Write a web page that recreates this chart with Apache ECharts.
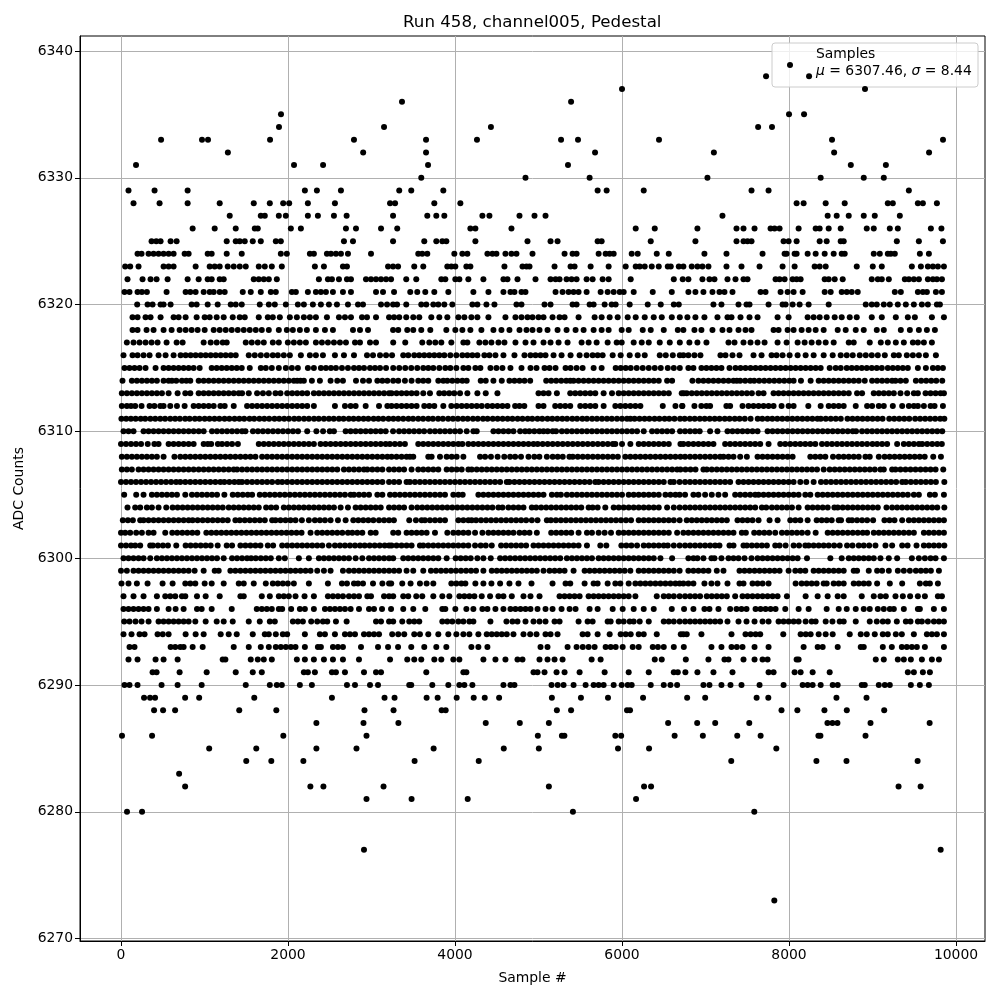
<!DOCTYPE html>
<html><head><meta charset="utf-8">
<style>html,body{margin:0;padding:0;background:#fff}#c{width:1000px;height:1000px}</style>
<script src="https://cdn.jsdelivr.net/npm/echarts@6/dist/echarts.min.js"></script>
</head><body><div id="c"></div>
<script>
const xTicks=[0,2000,4000,6000,8000,10000];
const yTicks=[6270,6280,6290,6300,6310,6320,6330,6340];
const titleText="Run 458, channel005, Pedestal";
const row6338=[7725,8240];
const row6337=[6000,8910];
const row6336=[3365,5390];
const row6335=[1916,8000,8180];
const row6334=[1892,3150,4430,7630,7796];
const row6333=[480,970,1042,1785,2790,3653,4263,5270,5473,6443,8515,9844];
const row6332=[1280,2900,3653,5677,7100,8540,9677];
const row6331=[180,2072,2420,3677,5353,8740,9160];
const row6330=[3596,4844,5612,7023,8379,8895,9135];
const row6329=[90,402,798,2202,2346,2634,3332,3476,3860,5708,5816,6260,7551,7755,9435];
const row6328=[150,462,798,1182,1590,1782,1942,2014,2238,2562,3222,3282,3752,4064,8091,8175,8439,8667,9183,9243,9543,9603,9771];
const row6327=[1302,1674,1722,1890,1974,2238,2358,2550,2702,3258,3668,3776,3872,4328,4412,4772,4952,5084,7203,8463,8571,8715,8895,9027,9327];
const row6326=[858,1122,1374,1602,1638,2034,2154,2694,2814,3114,3308,4184,4244,4676,6164,6392,6903,7371,7455,7587,7779,7827,7887,8115,8319,8367,8475,8619,8931,9015,9207,9303,9699,9825];
const row6325=[366,422,474,594,666,1266,1374,1422,1482,1578,1674,1854,1914,2670,2778,3258,3632,3776,3848,3896,4244,4868,5144,5228,5708,5756,6344,6879,7371,7455,7503,7551,7935,7995,8091,8367,8451,8619,8655,9291,9555,9843];
const row6324=[198,246,330,390,450,510,570,630,762,810,1038,1086,1266,1446,1914,1986,2262,2310,2466,2514,2574,2634,2718,2994,3560,3608,3668,3992,4088,4148,4388,4448,4496,4604,4676,4736,4928,5312,5408,5456,5720,5804,5852,5900,6116,6188,6416,6560,6987,7251,7683,7947,7971,8067,8091,8223,8319,8427,8535,8631,8667,9015,9087,9183,9219,9267,9567,9675];
const row6323=[50,110,210,510,570,630,894,1062,1122,1182,1278,1350,1422,1494,1650,1722,1806,1926,2322,2430,2658,2706,3198,3258,3318,3512,3620,3908,3956,4004,4136,4184,4592,4808,4856,4892,5192,5384,5432,5624,5840,6044,6164,6212,6272,6356,6440,6548,6584,6680,6735,6835,6903,6963,7035,7251,7431,7647,7923,8067,8307,8367,8439,8811,9003,9111,9471,9579,9663,9723,9783,9855];
const row6322=[78,258,354,426,558,798,930,1038,1086,1182,1230,1590,1650,1710,1770,1866,2370,2478,2526,2610,2706,2754,2934,2994,3054,3114,3174,3234,3416,3536,3836,3884,4004,4052,4160,4340,4580,4628,4748,4964,5144,5204,5252,5336,5396,5456,5576,5648,5768,5840,6104,6620,6727,6795,6963,7047,7107,7263,7359,7455,7503,7839,7887,7947,8043,8091,8139,8427,8475,8547,8643,8991,9063,9111,9195,9387,9435,9495,9555,9663,9723,9771,9831];
const row6321=[42,102,198,250,310,546,774,830,894,990,1062,1110,1182,1242,1458,1554,1674,1794,1854,2046,2094,2238,2334,2394,2454,2538,2658,2754,3054,3138,3270,3464,3548,3644,3752,3920,4220,4400,4580,4664,4712,4796,4844,5204,5288,5360,5420,5480,5576,5744,5828,5900,5972,6020,6140,6368,6596,6795,6879,6975,7083,7167,7227,7323,7659,7719,7899,7983,8055,8163,8427,8499,8631,8691,8751,8823,9267,9339,9543,9603,9651,9759,9831];
const row6320=[194,318,378,474,510,594,846,906,1038,1158,1314,1374,1446,1662,1770,1842,1974,2118,2190,2298,2394,2490,2586,2718,2838,2898,3114,3186,3258,3306,3416,3596,3656,3740,3800,3872,3968,4208,4268,4376,4472,4736,4796,5072,5144,5408,5456,5612,5660,5792,5876,5924,6092,6308,6464,6620,6680,7095,7191,7395,7491,7527,7755,7923,7959,8043,8127,8235,8475,8919,8991,9051,9135,9207,9303,9399,9495,9591,9663,9771,9807];
const row6319=[138,198,294,354,474,630,690,774,906,1002,1062,1146,1230,1338,1422,1482,1650,1758,1818,1902,2022,2106,2190,2262,2334,2466,2610,2682,2754,2886,2946,3054,3210,3270,3332,3416,3500,3572,3716,3812,3908,4040,4112,4196,4268,4400,4604,4724,4796,4868,4928,5000,5060,5168,5252,5312,5480,5672,5756,5852,5948,6068,6164,6272,6380,6476,6596,6692,6783,6879,6987,7143,7263,7311,7419,7527,7623,7863,7995,8223,8295,8367,8451,8547,8631,8727,8811,8991,9111,9279,9423,9507,9711,9855];
const row6318=[138,198,306,390,510,606,702,774,846,918,1002,1110,1182,1254,1326,1398,1470,1542,1614,1686,1770,1890,1986,2058,2142,2226,2334,2442,2538,2778,2862,2958,3258,3320,3428,3500,3596,3704,3896,4004,4088,4184,4316,4460,4556,4652,4772,4856,4928,5012,5108,5228,5336,5444,5540,5660,5756,5840,5996,6080,6248,6344,6500,6668,6735,6867,6951,7083,7203,7287,7395,7479,7551,7815,7875,7983,8055,8151,8235,8319,8415,8583,8679,8799,8895,9051,9135,9339,9447,9555,9651,9747];
const row6317=[70,150,222,294,366,438,546,666,738,990,1074,1146,1218,1266,1494,1566,1638,1710,1818,1890,1998,2070,2142,2214,2334,2406,2478,2550,2622,2694,2802,2862,2982,3054,3260,3404,3608,3692,3764,3836,3956,4100,4148,4292,4364,4436,4520,4592,4724,4844,4940,5060,5144,5240,5348,5516,5600,5696,5828,5936,5996,6140,6236,6320,6452,6572,6692,6807,6903,7011,7275,7347,7455,7539,7623,7707,7863,7971,8103,8187,8271,8355,8439,8535,8715,8775,8967,9099,9183,9279,9375,9483,9543,9615,9711];
const row6316=[30,138,198,270,342,450,534,630,714,774,834,894,954,1014,1074,1134,1194,1254,1314,1374,1530,1602,1674,1746,1818,1878,1950,2022,2154,2262,2334,2418,2562,2670,2790,2946,3018,3102,3174,3246,3380,3440,3512,3572,3632,3692,3752,3812,3872,3944,4016,4088,4148,4208,4268,4352,4412,4484,4580,4712,4832,4904,4964,5024,5084,5180,5276,5384,5492,5576,5648,5708,5768,5888,5984,6092,6188,6272,6452,6524,6608,6692,6735,6795,6867,6939,7179,7239,7323,7407,7575,7671,7791,7851,7923,8007,8103,8199,8295,8415,8523,8619,8691,8763,8847,8919,8991,9063,9147,9255,9315,9411,9483,9555,9639,9759];
const row6315=[42,102,162,222,294,414,510,570,630,690,750,810,870,942,1086,1146,1206,1266,1326,1386,1446,1542,1674,1734,1806,1890,1974,2046,2118,2238,2310,2394,2454,2514,2574,2646,2718,2790,2850,2910,2982,3042,3102,3174,3260,3332,3404,3476,3548,3620,3680,3740,3812,3884,3944,4016,4100,4160,4244,4304,4424,4496,4568,4664,4796,4904,4976,5072,5132,5204,5324,5384,5456,5528,5660,5756,5924,5984,6044,6104,6176,6248,6320,6392,6464,6548,6620,6692,6795,6855,6951,7011,7071,7131,7191,7287,7359,7419,7479,7539,7599,7659,7719,7779,7839,7899,7959,8019,8079,8139,8199,8259,8319,8379,8487,8559,8619,8691,8751,8811,8871,8931,8991,9051,9111,9183,9243,9303,9363,9423,9543,9639,9723,9783,9843];
const row6314=[18,130,190,250,310,370,430,510,570,610,662,730,782,830,930,990,1050,1110,1170,1230,1290,1350,1410,1470,1530,1590,1650,1710,1770,1830,1890,1950,2010,2070,2110,2150,2190,2286,2382,2510,2590,2658,2814,2898,2970,3070,3130,3190,3260,3320,3400,3480,3560,3620,3680,3800,3860,3908,3968,4028,4088,4140,4308,4368,4460,4560,4652,4712,4772,4832,4900,5092,5152,5212,5272,5332,5380,5420,5480,5540,5600,5660,5720,5780,5840,5900,5960,6020,6080,6140,6200,6260,6320,6380,6440,6540,6600,6843,6915,6975,7035,7095,7155,7215,7275,7335,7375,7415,7475,7535,7583,7643,7703,7763,7823,7883,7943,8003,8055,8143,8259,8355,8415,8475,8535,8595,8655,8715,8775,8835,8907,8995,9055,9115,9175,9235,9275,9335,9399,9519,9583,9643,9703,9763,9835];
const row6313=[10,70,130,190,250,310,370,430,490,570,678,770,830,930,990,1050,1110,1170,1230,1290,1350,1410,1450,1530,1630,1700,1770,1850,1910,1990,2050,2110,2170,2230,2310,2370,2430,2490,2550,2610,2670,2730,2790,2850,2910,2970,3030,3090,3150,3210,3240,3300,3360,3420,3480,3540,3620,3700,3812,3870,3930,3990,4060,4148,4268,4368,4508,5000,5060,5120,5220,5380,5440,5500,5560,5620,5680,5780,5880,5960,6020,6080,6140,6200,6260,6320,6380,6440,6500,6560,6740,6715,6775,6835,6895,6955,7015,7075,7135,7195,7255,7315,7375,7435,7495,7555,7635,7695,7815,7875,7935,7995,8055,8115,8175,8235,8295,8355,8415,8475,8535,8595,8655,8715,8815,8875,9015,9075,9135,9195,9255,9335,9415,9495,9543,9635,9695,9755,9815,9855];
const row6312=[10,70,120,170,246,342,400,470,510,590,670,762,870,930,990,1050,1110,1190,1242,1350,1510,1570,1630,1690,1750,1810,1870,1930,1990,2050,2110,2170,2230,2310,2562,2682,2750,2810,2930,3090,3190,3240,3300,3360,3420,3480,3540,3632,3692,3752,3860,3956,4020,4080,4140,4200,4260,4320,4388,4448,4508,4568,4628,4720,4772,4830,5000,5060,5200,5260,5320,5380,5500,5560,5620,5680,5780,5920,5980,6040,6100,6160,6220,6488,6640,6720,6723,6867,6950,7010,7055,7250,7295,7443,7515,7575,7635,7695,7755,7815,7911,7995,8055,8231,8379,8475,8535,8595,8655,8799,8935,8995,9075,9135,9243,9355,9435,9495,9543,9615,9695,9743,9843];
const row6311=[5,62,118,175,236,290,352,410,470,528,590,648,705,768,822,885,940,1002,1060,1120,1178,1240,1298,1360,1418,1475,1540,1595,1658,1716,1775,1838,1895,1955,2012,2075,2130,2192,2250,2312,2368,2430,2490,2548,2610,2665,2728,2785,2845,2905,2962,3025,3082,3140,3204,3262,3320,3380,3442,3498,3560,3618,3680,3735,3798,3855,3918,3975,4035,4095,4152,4215,4272,4335,4390,4452,4510,4570,4630,4688,4750,4808,4870,4925,4988,5045,5108,5165,5225,5285,5342,5405,5462,5525,5580,5642,5700,5760,5820,5878,5940,6000,6060,6100,6150,6210,6270,6328,6390,6448,6510,6566,6628,6695,6750,6812,6870,6932,6990,7050,7110,7168,7230,7288,7350,7408,7470,7540,7625,7680,7742,7800,7860,7920,7980,8040,8100,8160,8220,8280,8340,8380,8440,8500,8560,8620,8700,8760,8820,8880,8940,9000,9060,9120,9200,9260,9320,9380,9440,9510,9570,9630,9690,9750,9810,9860];
const row6310=[30,90,150,270,330,390,450,510,570,630,690,750,810,870,930,990,1090,1150,1210,1270,1330,1390,1450,1490,1580,1640,1700,1760,1820,1880,1940,2000,2060,2120,2230,2340,2420,2500,2550,2690,2750,2810,2870,2930,2990,3050,3110,3170,3258,3330,3390,3450,3510,3570,3630,3700,3760,3820,3880,3940,4000,4060,4140,4220,4260,4460,4520,4580,4640,4700,4780,4840,4890,4950,5010,5060,5110,5170,5210,5280,5340,5400,5460,5520,5580,5640,5700,5760,5820,5880,5940,6000,6060,6120,6180,6260,6360,6420,6480,6540,6600,6695,6755,6815,6875,6930,7055,7143,7263,7323,7383,7443,7503,7563,7623,7743,7803,7863,7923,7983,8043,8103,8163,8223,8283,8343,8403,8463,8523,8583,8643,8703,8763,8803,8875,8935,8995,9055,9115,9175,9235,9295,9355,9415,9475,9535,9595,9655,9715,9775,9835];
const row6309=[0,60,120,180,240,320,400,450,570,630,690,750,810,870,990,1040,1080,1160,1210,1270,1330,1400,1650,1710,1770,1830,1890,1950,2010,2070,2130,2190,2250,2310,2390,2450,2510,2570,2630,2690,2750,2810,2870,2930,2990,3050,3110,3170,3220,3280,3340,3400,3560,3620,3680,3740,3800,3860,3920,3980,4040,4088,4160,4220,4280,4340,4400,4460,4520,4580,4640,4700,4760,4820,4880,4940,4990,5050,5110,5170,5230,5290,5350,5410,5470,5530,5590,5650,5710,5770,5830,5890,5920,6000,6100,6200,6260,6320,6380,6440,6500,6560,6700,6735,6795,6855,6915,6975,7035,7095,7235,7295,7355,7415,7475,7535,7595,7655,7755,7895,7955,8015,8075,8135,8195,8255,8315,8395,8455,8515,8575,8635,8695,8755,8815,8875,8935,9000,9055,9115,9175,9295,9375,9435,9495,9555,9595,9655,9715,9775,9830];
const row6308=[10,70,130,190,250,310,370,430,510,640,710,770,830,890,950,1010,1070,1130,1190,1250,1310,1370,1430,1490,1550,1610,1690,1750,1810,1870,1930,1990,2050,2110,2170,2230,2290,2350,2410,2470,2530,2590,2650,2710,2770,2830,2890,2950,3010,3070,3130,3190,3240,3300,3360,3420,3460,3500,3680,3720,3820,3900,3960,4020,4100,4300,4360,4430,4510,4590,4660,4720,4790,4880,4950,5010,5100,5170,5230,5290,5370,5410,5470,5530,5590,5650,5710,5770,5830,5890,5950,6040,6100,6160,6220,6280,6340,6400,6460,6520,6580,6640,6700,6755,6815,6875,6935,6995,7055,7115,7175,7215,7275,7335,7415,7495,7623,7683,7743,7803,7863,7923,7983,8043,8255,8315,8375,8435,8527,8595,8655,8715,8775,8835,8915,8967,9075,9145,9205,9265,9325,9385,9445,9505,9565,9625,9727,9819];
const row6307=[10,70,130,210,270,330,390,450,510,570,630,690,750,810,870,930,990,1050,1110,1170,1230,1290,1350,1390,1450,1510,1570,1630,1690,1750,1810,1870,1930,1990,2050,2110,2170,2230,2290,2350,2410,2470,2530,2590,2670,2730,2790,2850,2910,2950,3010,3070,3130,3210,3270,3330,3390,3480,3560,3620,3680,3740,3800,3900,3960,4020,4080,4160,4200,4260,4320,4380,4440,4500,4560,4620,4680,4740,4800,4860,4920,4980,5040,5100,5160,5220,5280,5340,5400,5460,5520,5580,5640,5700,5760,5820,5880,5940,6000,6060,6120,6180,6240,6300,6360,6420,6480,6540,6600,6660,6700,6760,6820,6880,6975,7015,7075,7135,7195,7255,7315,7375,7435,7495,7555,7615,7675,7735,7795,7855,7915,7975,8035,8095,8155,8215,8275,8335,8415,8487,8547,8607,8667,8727,8787,8847,8907,8967,9027,9095,9135,9235,9275,9335,9395,9455,9515,9575,9635,9695,9755,9847];
const row6306=[0,60,120,180,240,300,360,420,480,540,600,660,710,770,830,890,950,1010,1070,1130,1190,1238,1298,1358,1410,1450,1510,1570,1630,1690,1750,1810,1878,1930,1990,2050,2110,2170,2230,2290,2350,2410,2470,2530,2590,2650,2710,2770,2830,2890,2950,3010,3070,3130,3210,3270,3330,3420,3460,3520,3580,3640,3700,3760,3820,3880,3940,4000,4060,4120,4180,4240,4300,4360,4420,4480,4540,4620,4652,4712,4772,4832,4892,4952,5012,5072,5132,5192,5252,5312,5372,5432,5492,5552,5612,5680,5720,5780,5840,5900,5960,6020,6080,6140,6200,6260,6320,6380,6440,6500,6580,6620,6690,6755,6815,6875,6935,6995,7055,7115,7175,7235,7295,7395,7455,7515,7575,7635,7695,7755,7815,7875,7935,7995,8055,8135,8207,8295,8383,8443,8503,8563,8623,8683,8743,8803,8863,8923,8983,9043,9103,9163,9223,9283,9355,9399,9459,9519,9579,9639,9699,9759,9860];
const row6305=[38,182,270,370,430,490,550,610,670,770,850,910,970,1030,1090,1150,1238,1338,1398,1458,1518,1570,1662,1722,1782,1842,1902,1962,2022,2082,2142,2202,2262,2322,2382,2442,2502,2562,2622,2682,2750,2790,2850,2910,2970,3070,3130,3222,3280,3340,3400,3460,3520,3580,3640,3700,3760,3820,3880,3980,4040,4092,4280,4340,4400,4460,4520,4580,4640,4700,4760,4820,4880,4940,5000,5060,5160,5220,5268,5340,5400,5460,5520,5580,5640,5700,5760,5820,5880,5940,6000,6080,6140,6200,6260,6320,6380,6440,6520,6580,6640,6690,6755,6855,6915,6995,7075,7155,7235,7355,7415,7475,7535,7595,7635,7695,7755,7815,7875,7935,7995,8055,8115,8195,8255,8343,8403,8463,8523,8583,8643,8703,8763,8823,8883,8943,9003,9063,9123,9183,9243,9303,9363,9423,9495,9555,9687,9747,9855];
const row6304=[78,170,230,310,370,450,542,618,678,738,798,858,918,978,1038,1098,1158,1218,1290,1350,1410,1470,1530,1590,1650,1738,1798,1858,1950,2010,2070,2130,2190,2250,2310,2370,2430,2490,2550,2630,2718,2810,2870,2930,2990,3050,3110,3210,3270,3330,3390,3480,3548,3608,3668,3728,3788,3848,3908,3968,4028,4088,4148,4208,4268,4328,4388,4448,4520,4568,4640,4700,4760,4820,4920,4972,5032,5092,5152,5212,5272,5332,5392,5452,5512,5600,5648,5708,5800,5900,5960,6020,6080,6140,6200,6260,6320,6380,6440,6540,6620,6690,6755,6815,6875,6935,6995,7055,7115,7175,7235,7295,7355,7415,7475,7535,7595,7675,7727,7795,7855,7915,7975,8035,8115,8223,8283,8343,8403,8463,8543,8583,8643,8703,8763,8823,8883,8943,9003,9063,9167,9235,9295,9355,9415,9475,9535,9595,9655,9715,9775,9860];
const row6303=[22,82,142,230,270,330,390,450,510,570,630,690,750,810,858,918,978,1038,1098,1158,1218,1278,1370,1422,1482,1542,1602,1662,1722,1810,1850,1910,1970,2030,2090,2166,2250,2322,2382,2442,2510,2598,2690,2782,2842,2902,2962,3022,3090,3150,3210,3268,3452,3532,3600,3640,3700,3760,3820,3880,4040,4100,4160,4200,4252,4312,4372,4432,4492,4552,4612,4672,4732,4792,4852,4920,4988,5100,5148,5208,5268,5328,5388,5448,5508,5568,5628,5688,5748,5808,5868,5928,5988,6048,6108,6200,6260,6320,6380,6440,6500,6560,6620,6690,6775,6835,6895,6955,7015,7075,7135,7195,7255,7383,7443,7503,7563,7635,7767,7863,8015,8075,8135,8223,8331,8391,8451,8511,8595,8623,8715,8755,8815,8875,8935,9007,9143,9203,9263,9355,9435,9495,9555,9615,9675,9735,9795,9855];
const row6302=[0,50,110,182,250,330,390,530,614,674,734,794,854,914,1022,1082,1142,1202,1262,1322,1382,1442,1502,1562,1622,1682,1742,1802,1862,1922,1982,2042,2102,2162,2270,2350,2410,2470,2530,2590,2650,2718,2770,2830,2890,2990,3050,3260,3320,3420,3480,3540,3600,3660,3760,3908,3980,4040,4100,4160,4240,4328,4400,4460,4520,4580,4640,4700,4772,4832,4892,4980,5152,5212,5272,5332,5392,5480,5580,5640,5720,5792,5868,5960,6020,6080,6140,6200,6260,6320,6380,6440,6500,6560,6660,6735,6795,6855,6915,6975,7035,7095,7155,7215,7275,7335,7435,7483,7583,7643,7703,7763,7835,7915,7975,8035,8095,8155,8223,8319,8463,8523,8583,8643,8703,8763,8823,8883,8935,9015,9075,9135,9195,9255,9315,9375,9435,9495,9615,9675,9735,9795,9855];
const row6301=[0,60,120,170,230,350,382,442,502,562,662,774,834,894,954,1014,1074,1158,1266,1330,1430,1490,1550,1610,1670,1758,1822,1930,1990,2050,2110,2170,2230,2290,2350,2410,2490,2562,2622,2682,2742,2802,2862,2918,2978,3038,3098,3158,3210,3240,3300,3360,3420,3480,3580,3620,3680,3740,3800,3860,3920,3980,4040,4100,4160,4240,4308,4368,4440,4552,4612,4672,4732,4792,4852,4940,5000,5060,5120,5180,5240,5300,5360,5420,5480,5580,5740,5812,5992,6052,6112,6180,6260,6320,6380,6440,6500,6548,6620,6690,6755,6815,6875,6935,6995,7055,7115,7167,7287,7335,7455,7495,7555,7615,7675,7735,7835,7887,7959,8055,8120,8195,8235,8295,8355,8415,8475,8540,8607,8695,8760,8835,8895,8960,9035,9155,9235,9355,9420,9527,9615,9675,9735,9795,9860];
const row6300=[30,90,150,210,270,350,430,490,550,610,670,730,790,850,910,970,1030,1090,1150,1230,1330,1390,1450,1510,1558,1614,1674,1734,1794,1890,1962,2130,2250,2370,2430,2490,2550,2610,2670,2730,2810,2890,2970,3030,3090,3150,3210,3260,3380,3440,3500,3560,3620,3680,3740,3800,3900,4008,4068,4128,4188,4268,4340,4428,4540,4600,4660,4720,4780,4840,4900,4960,5020,5080,5140,5200,5260,5340,5400,5460,5520,5580,5640,5720,5780,5840,5900,5960,6020,6080,6140,6200,6260,6320,6380,6460,6600,6795,6855,6903,6975,7071,7107,7191,7275,7335,7395,7467,7551,7623,7683,7743,7803,7863,7923,7983,8043,8103,8215,8495,8631,8715,8775,8835,8895,8955,9015,9095,9195,9295,9471,9555,9627,9695,9755,9855];
const row6299=[0,70,150,210,270,330,390,450,510,570,630,690,750,810,882,990,1122,1170,1310,1370,1430,1490,1550,1610,1670,1730,1790,1850,1910,1970,2030,2090,2150,2210,2270,2350,2430,2510,2658,2730,2790,2850,2910,2970,3030,3090,3150,3210,3270,3330,3420,3500,3620,3712,3772,3832,3892,3952,4012,4072,4132,4192,4252,4340,4440,4500,4560,4620,4680,4740,4800,4860,4920,4980,5060,5132,5192,5252,5312,5420,5552,5612,5672,5732,5792,5852,5912,5972,6032,6100,6200,6260,6320,6380,6440,6500,6560,6620,6690,6795,6855,6915,6975,7035,7135,7215,7407,7467,7527,7587,7647,7707,7767,7827,7887,7995,8075,8135,8195,8295,8355,8415,8475,8535,8595,8655,8775,8815,8955,9055,9115,9195,9303,9375,9447,9519,9579,9639,9699,9795];
const row6298=[6,90,190,318,498,618,770,830,890,1002,1086,1230,1410,1470,1590,1734,1818,1878,1938,1998,2070,2250,2478,2646,2706,2790,2838,2898,3018,3130,3210,3236,3368,3468,3580,3660,3740,3956,4016,4076,4124,4244,4340,4436,4540,4652,4760,4916,5168,5324,5380,5552,5660,5708,5828,5920,5980,6080,6160,6220,6280,6340,6400,6460,6520,6580,6640,6690,6735,6795,6855,6987,7071,7143,7263,7407,7455,7563,7623,7683,7755,8079,8151,8211,8271,8331,8415,8451,8535,8595,8655,8775,8835,8895,8955,9055,9207,9355,9567,9639,9687,9783];
const row6297=[30,150,270,430,530,590,650,730,770,910,1014,1182,1430,1470,1686,1782,1890,1950,2010,2090,2198,2310,2478,2538,2598,2658,2730,2790,2850,2950,2994,3150,3210,3260,3380,3440,3536,3608,3740,3848,3932,4052,4112,4172,4232,4320,4420,4520,4580,4680,4820,4904,5012,5252,5312,5372,5432,5492,5600,5660,5720,5780,5840,5900,5960,6020,6080,6160,6416,6500,6560,6620,6690,6755,6815,6875,6935,7015,7075,7135,7195,7255,7355,7443,7503,7563,7623,7683,7743,7803,7863,7975,8199,8343,8463,8583,8655,8871,9015,9095,9159,9275,9363,9450,9543,9627,9783,9831];
const row6296=[30,90,150,210,270,330,430,570,654,750,910,966,1086,1326,1626,1686,1746,1806,1890,1930,2038,2142,2202,2310,2442,2502,2562,2622,2682,2750,2850,2970,3030,3126,3234,3380,3500,3644,3848,3884,4004,4136,4220,4328,4388,4484,4580,4664,4724,4784,4844,4904,4988,5084,5168,5276,5372,5444,5612,5708,5888,6008,6140,6260,6380,6596,6743,6855,6987,7047,7155,7295,7371,7431,7491,7599,7659,7719,7779,7839,7955,8115,8235,8451,8595,8691,8799,8895,8967,9063,9135,9207,9255,9375,9543,9567,9735,9855];
const row6295=[38,102,174,246,330,450,510,570,630,690,750,810,890,1014,1146,1230,1338,1530,1662,1782,1842,2058,2118,2178,2278,2350,2418,2470,2574,2702,3054,3114,3210,3260,3368,3452,3512,3572,3848,3908,3968,4040,4100,4172,4220,4424,4616,4688,4748,4844,4940,5012,5084,5192,5252,5480,5588,5648,5828,5864,5960,6020,6092,6140,6212,6320,6500,6560,6620,6690,6755,6815,6875,6935,6995,7055,7115,7175,7263,7395,7491,7587,7683,7755,7875,7935,7995,8055,8115,8199,8271,8319,8439,8520,8607,8655,8799,8967,9051,9123,9183,9291,9399,9455,9543,9591,9663,9735,9795,9855];
const row6294=[30,126,222,282,438,500,570,774,894,990,1194,1290,1386,1578,1722,1770,1854,1938,1990,2202,2382,2442,2562,2682,2742,2802,2910,2970,3030,3090,3248,3320,3392,3512,3580,3680,3800,3920,4016,4100,4172,4280,4380,4440,4500,4560,4620,4700,4820,4900,4976,5084,5144,5228,5528,5588,5708,5852,5984,6044,6104,6200,6260,6416,6704,6735,6775,6951,7311,7479,7540,7600,7655,7931,8139,8200,8259,8355,8439,8523,8727,8859,8931,9027,9123,9183,9279,9351,9495,9651,9711,9771,9855];
const row6293=[102,162,594,650,710,750,858,978,1350,1530,1674,1770,1854,1914,1974,2034,2090,2202,2358,2394,2538,2598,2658,2874,3078,3198,3318,3476,3632,3776,3896,4196,4280,4388,5024,5108,5348,5456,5530,5600,5672,5804,5864,5924,6008,6128,6200,6368,6430,6500,6620,6740,7071,7191,7311,7375,7443,7587,7755,8175,8343,8403,8583,8859,8895,9123,9231,9351,9411,9471,9531,9627,9855];
const row6292=[90,198,414,510,678,1218,1250,1554,1638,1710,1806,2106,2202,2310,2430,2538,2658,2850,3222,3428,3512,3596,3752,3836,3980,4052,4340,4484,4604,4748,4808,5012,5108,5192,5288,5636,5744,6392,6476,6764,7035,7227,7275,7455,7587,7683,7743,8091,8115,9039,9135,9303,9375,9459,9591,9711,9795];
const row6291=[378,426,702,1026,1374,1578,1686,2190,2238,2322,2526,2574,2682,2910,3054,3114,3656,4100,4136,4940,4988,5072,5216,5312,5492,5792,6080,6320,6620,6668,6759,6903,7095,7323,7755,7815,8067,8139,8283,8487,9423,9495,9603,9687];
const row6290=[42,102,198,486,678,966,1494,1782,1866,1926,2142,2286,2706,2802,2982,3078,3452,3476,3728,3920,4052,4112,4208,4580,4664,4712,5156,5230,5300,5420,5564,5660,5720,5780,5900,5996,6068,6116,6344,6500,6580,6660,6975,7047,7191,7299,7431,7647,7935,8163,8223,8283,8379,8523,8583,8871,8907,9075,9147,9207,9459,9567,9675];
const row6289=[276,348,408,768,936,1596,2526,3156,3276,3660,3792,4020,4224,4356,4528,5160,5508,5832,6252,6780,6996,7612,7752,8568,8928];
const row6288=[396,504,648,1416,1860,2916,3264,3840,3888,5220,5390,6060,6096,7910,8100,8424,8692,9140];
const row6287=[2340,2904,3322,4368,4776,5124,6552,6900,7116,7524,8460,8520,8580,8976,9684];
const row6286=[12,372,1944,2940,4992,5280,5310,5920,5990,6630,6968,7380,7660,8352,8376,8916];
const row6285=[1056,1620,2340,2820,3744,4584,5004,5952,6324,7848];
const row6284=[1500,1800,2184,3516,4284,7308,8328,8688,9540];
const row6283=[696];
const row6282=[768,2268,2424,3144,5124,6264,6348,9312,9576];
const row6281=[2940,3480,4152,6168];
const row6280=[72,252,5412,7584];
const row6277=[2910,9816];
const row6273=[7824];
const allRows={6338:row6338,6337:row6337,6336:row6336,6335:row6335,6334:row6334,6333:row6333,6332:row6332,6331:row6331,6330:row6330,6329:row6329,6328:row6328,6327:row6327,6326:row6326,6325:row6325,6324:row6324,6323:row6323,6322:row6322,6321:row6321,6320:row6320,6319:row6319,6318:row6318,6317:row6317,6316:row6316,6315:row6315,6314:row6314,6313:row6313,6312:row6312,6311:row6311,6310:row6310,6309:row6309,6308:row6308,6307:row6307,6306:row6306,6305:row6305,6304:row6304,6303:row6303,6302:row6302,6301:row6301,6300:row6300,6299:row6299,6298:row6298,6297:row6297,6296:row6296,6295:row6295,6294:row6294,6293:row6293,6292:row6292,6291:row6291,6290:row6290,6289:row6289,6288:row6288,6287:row6287,6286:row6286,6285:row6285,6284:row6284,6283:row6283,6282:row6282,6281:row6281,6280:row6280,6277:row6277,6273:row6273};
const points=[];
for(const y in allRows){for(const x of allRows[y]){points.push([x,+y]);}}
const font='"DejaVu Sans"';
const chart=echarts.init(document.getElementById('c'),null,{renderer:'canvas'});
function axisCommon(ticks){return {
  type:'value',scale:true,
  axisLine:{show:true,onZero:false,lineStyle:{color:'#000',width:1}},
  axisTick:{show:true,length:5,customValues:ticks,lineStyle:{color:'#000',width:1}},
  axisLabel:{show:true,customValues:ticks,color:'#000',fontFamily:font,fontSize:13.9,margin:7,formatter:v=>String(v)},
  splitLine:{show:true,lineStyle:{color:'#b0b0b0',width:1}},
  nameLocation:'middle',nameTextStyle:{color:'#000',fontFamily:font,fontSize:13.9}
};}
chart.setOption({
  animation:false,
  backgroundColor:'#fff',
  title:{text:titleText,left:398,top:9,textStyle:{fontFamily:font,fontSize:16.67,fontWeight:'normal',color:'#000'}},
  grid:{left:80,right:15,top:36,bottom:59,show:true,borderColor:'#000',borderWidth:1,backgroundColor:'transparent'},
  xAxis:Object.assign(axisCommon(xTicks),{min:-491,max:10347,name:'Sample #',nameGap:30}),
  yAxis:Object.assign(axisCommon(yTicks),{min:6269.81,max:6341.18,name:'ADC Counts',nameGap:46}),
  series:[{type:'scatter',data:points,symbol:'circle',symbolSize:6,itemStyle:{color:'#000',opacity:1},large:false,z:3,silent:true}],
  graphic:[
    {type:'rect',z:100,shape:{x:772,y:43,width:206,height:44,r:3},style:{fill:'rgba(255,255,255,0.8)',stroke:'#ccc',lineWidth:1}},
    {type:'circle',z:101,shape:{cx:790,cy:65,r:3},style:{fill:'#000'}},
    {type:'text',z:101,style:{x:816,y:47,text:'Samples',font:'13.9px "DejaVu Sans"',fill:'#000'}},
    {type:'text',z:101,style:{x:816,y:64,text:'{i|μ} = 6307.46, {i|σ} = 8.44',font:'13.9px "DejaVu Sans"',fill:'#000',rich:{i:{fontStyle:'italic',fontFamily:font,fontSize:13.9,fill:'#000'}}}}
  ]
});
</script></body></html>
